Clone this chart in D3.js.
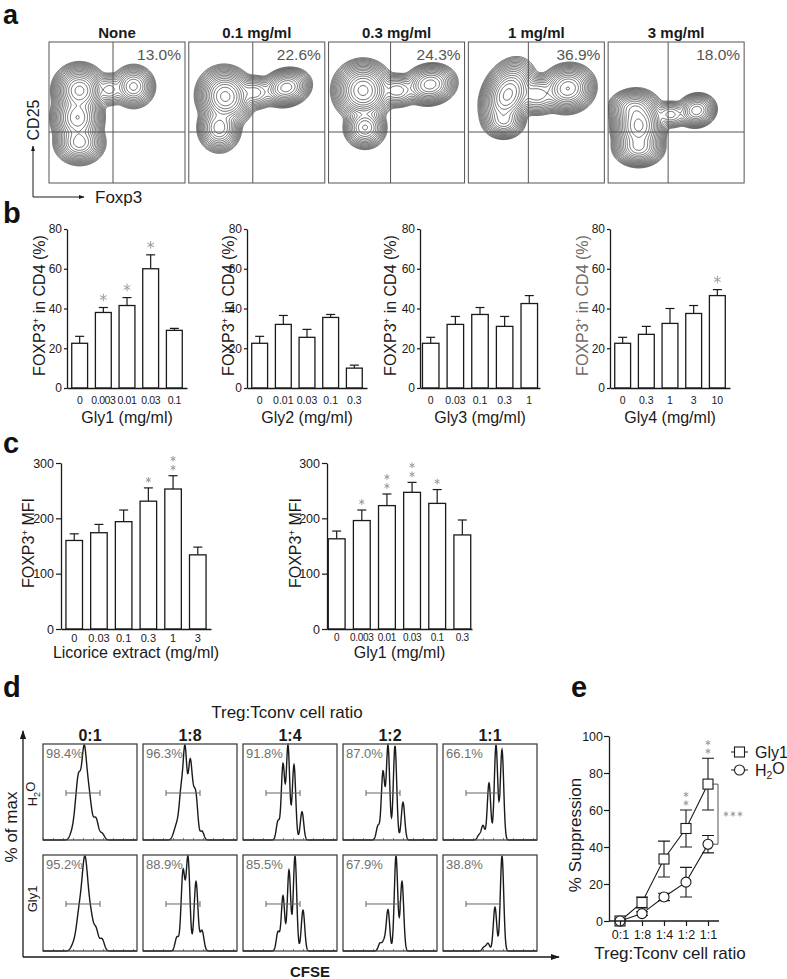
<!DOCTYPE html>
<html>
<head>
<meta charset="utf-8">
<script src="https://cdn.jsdelivr.net/npm/d3@7"></script>
<style>
body { margin: 0; background: #fff; }
svg { display: block; }
text { font-family: 'Liberation Sans', Arial, sans-serif; }
</style>
</head>
<body>
<div id="chart-area"></div>
<script>
var width = 787, height = 979;
var ink = "#1a1a1a", grey = "#666", starGrey = "#9a9a9a";

// ---- panel a : flow contour plots (populations: cx, cy, sx, sy, weight, angle)
var flowTitles = ["None", "0.1 mg/ml", "0.3 mg/ml", "1 mg/ml", "3 mg/ml"];
var flowPercents = ["13.0%", "22.6%", "24.3%", "36.9%", "18.0%"];
var flowGateX = [64, 64, 62, 60, 60];
var flowBlobs = [
  [[30, 48, 8, 8, 1, 0], [28, 75, 8, 9, 0.6, 0], [30, 100, 8, 7, 0.35, 0], [84, 44, 7, 7, 0.22, 0], [60, 47, 6, 6, 0.05, 0]],
  [[36, 54, 8.5, 9, 1, -20], [30, 85, 7, 8, 0.25, 0], [97, 45, 8, 6, 0.35, -15], [65, 50, 8, 6, 0.08, 0]],
  [[34, 48, 9, 9, 1, 0], [36, 85, 7, 7, 0.2, 0], [101, 42, 8.5, 6.5, 0.35, -10], [68, 48, 8, 6, 0.08, 0]],
  [[39, 52, 7.5, 11, 1, 25], [35, 78, 7, 6, 0.2, 0], [99, 46, 8.5, 7.5, 0.6, -15], [68, 52, 9, 7, 0.12, 0]],
  [[30, 83, 8, 10, 1, 0], [25, 66, 8, 6, 0.3, 0], [30, 105, 8, 6, 0.4, 0], [88, 68, 6.5, 5.5, 0.25, -15], [62, 72, 7, 5, 0.05, 0]]
];

// ---- panel b
var bTicks = [
  ["0", "0.003", "0.01", "0.03", "0.1"],
  ["0", "0.01", "0.03", "0.1", "0.3"],
  ["0", "0.03", "0.1", "0.3", "1"],
  ["0", "0.3", "1", "3", "10"]
];
var bMeans = [[22.5, 38, 41.5, 60, 29], [22.5, 32, 25.5, 35.5, 10], [22.5, 32, 37, 31, 42.5], [22.5, 27, 32.5, 37.5, 46.5]];
var bUpper = [[26, 40.5, 45.5, 67, 30], [26, 36.5, 29.5, 37, 11.5], [25.5, 36, 40.5, 36, 46.5], [25.5, 31, 40, 41.5, 49.5]];
var bStars = [[0, 1, 1, 1, 0], [0, 0, 0, 0, 0], [0, 0, 0, 0, 0], [0, 0, 0, 0, 1]];
var bXLabels = ["Gly1 (mg/ml)", "Gly2 (mg/ml)", "Gly3 (mg/ml)", "Gly4 (mg/ml)"];
var bYTicks = [0, 20, 40, 60, 80];

// ---- panel c
var cTicks = [["0", "0.03", "0.1", "0.3", "1", "3"], ["0", "0.003", "0.01", "0.03", "0.1", "0.3"]];
var cMeans = [[160, 174, 194, 231, 253, 134], [163, 196, 223, 247, 227, 170]];
var cUpper = [[172, 189, 215, 255, 277, 148], [177, 215, 244, 265, 252, 197]];
var cStars = [[0, 0, 0, 1, 2, 0], [0, 1, 2, 2, 1, 0]];
var cXLabels = ["Licorice extract (mg/ml)", "Gly1 (mg/ml)"];
var cYTicks = [0, 100, 200, 300];

// ---- panel d : CFSE histograms (peak channel, relative height)
var ratios = ["0:1", "1:8", "1:4", "1:2", "1:1"];
var dRows = ["H2O", "Gly1"];
var dPercents = [["98.4%", "96.3%", "91.8%", "87.0%", "66.1%"], ["95.2%", "88.9%", "85.5%", "67.9%", "38.8%"]];
var histPeaks = [
  [
    [[29, 0.08], [33, 0.28], [36, 0.62], [41, 1.0], [45, 0.45], [48, 0.22], [53, 0.25], [59, 0.08]],
    [[31, 0.06], [34, 0.15], [38, 0.5], [42, 1.0], [47, 0.8], [50, 0.3], [53, 0.45], [59, 0.1]],
    [[35, 0.2], [40, 0.8], [45, 1.0], [51, 0.8], [59, 0.3]],
    [[35, 0.15], [40, 0.72], [45, 1.0], [52, 1.0], [60, 0.4]],
    [[36, 0.05], [40, 0.15], [46, 0.6], [53, 1.0], [59, 0.95]]
  ],
  [
    [[30, 0.08], [34, 0.22], [37, 0.5], [41, 1.0], [44, 0.7], [48, 0.45], [53, 0.32], [59, 0.18]],
    [[34, 0.15], [40, 0.85], [45, 1.0], [53, 0.75], [59, 0.22]],
    [[35, 0.2], [40, 0.58], [46, 0.85], [52, 1.0], [60, 0.43]],
    [[37, 0.08], [41, 0.1], [45, 0.43], [53, 1.0], [59, 0.73]],
    [[41, 0.04], [45, 0.08], [52, 0.46], [59, 1.0]]
  ]
];
var histSigma = [2.3, 1.9, 1.7, 1.7, 1.7];

// ---- panel e
var eGly1 = [0, 10, 33.5, 50, 74];
var eGly1Err = [0, 3, 9.7, 10, 14];
var eH2O = [0, 4, 13, 21, 41.5];
var eH2OErr = [0, 1, 2, 8, 4.7];
var eStars = [0, 0, 0, 2, 2];
var eYTicks = [0, 20, 40, 60, 80, 100];

var svg = d3.select("#chart-area").append("svg")
  .attr("width", width)
  .attr("height", height);
var defs = svg.append("defs");

function arrowMarker(id, size) {
  defs.append("marker")
    .attr("id", id)
    .attr("viewBox", "0 0 10 10")
    .attr("refX", 9).attr("refY", 5)
    .attr("markerUnits", "userSpaceOnUse")
    .attr("markerWidth", size).attr("markerHeight", size)
    .attr("orient", "auto")
    .append("path").attr("d", "M0,1.5L10,5L0,8.5Z").attr("fill", ink);
}
arrowMarker("arrowS", 6);
arrowMarker("arrowL", 9);

function panelLabel(t, x, y, size) {
  svg.append("text").attr("x", x).attr("y", y)
    .attr("font-size", size || "29px").attr("font-weight", "bold").attr("fill", "#111").text(t);
}

function rotLabel(g, x, y, size, color) {
  return g.append("text")
    .attr("transform", "translate(" + x + "," + y + ") rotate(-90)")
    .attr("text-anchor", "middle").attr("dy", "0.35em")
    .attr("font-size", size).attr("fill", color || ink);
}

function addFoxp3(t, rest) {
  t.append("tspan").text("FOXP3");
  t.append("tspan").attr("font-size", "0.6em").attr("dy", "-0.6em").text("+");
  t.append("tspan").attr("dy", "0.36em").text(rest);
}

function star(g, x, y, size) {
  g.append("path")
    .attr("transform", "translate(" + x + "," + y + ")")
    .attr("d", d3.symbol(d3.symbolAsterisk, size)())
    .attr("fill", "none").attr("stroke", starGrey).attr("stroke-width", 1);
}

// ================= panel a =================
panelLabel("a", 3, 24, "27px");
var boxW = 136, boxH = 141, boxY = 42;
var flowX = d3.scaleBand().domain(flowTitles).range([49, 744]).paddingInner(0.028).paddingOuter(0);

function densityGrid(blobs, w, h) {
  var vals = new Array(w * h);
  for (var j = 0; j < h; j++) {
    for (var i = 0; i < w; i++) {
      var v = 0;
      blobs.forEach(function(b) {
        var a = b[5] * Math.PI / 180, dx = i - b[0], dy = j - b[1];
        var u = dx * Math.cos(a) + dy * Math.sin(a), t = -dx * Math.sin(a) + dy * Math.cos(a);
        v += b[4] * Math.exp(-0.5 * (u * u / (b[2] * b[2]) + t * t / (b[3] * b[3])));
      });
      vals[j * w + i] = v;
    }
  }
  return vals;
}

flowTitles.forEach(function(title, k) {
  var bx = flowX(title);
  var g = svg.append("g").attr("transform", "translate(" + bx + "," + boxY + ")");
  defs.append("clipPath").attr("id", "clipA" + k)
    .append("rect").attr("width", boxW).attr("height", boxH);
  var vals = densityGrid(flowBlobs[k], boxW, boxH);
  var mx = d3.max(vals);
  var levels = d3.range(18).map(function(i) { return mx * Math.exp(-0.38 * (i + 0.4)); }).reverse();
  var contours = d3.contours().size([boxW, boxH]).thresholds(levels)(vals);
  g.append("g").attr("clip-path", "url(#clipA" + k + ")")
    .selectAll("path").data(contours).join("path")
    .attr("d", d3.geoPath())
    .attr("fill", "none").attr("stroke", "#111").attr("stroke-width", 0.6);
  // quadrant gates
  g.append("line").attr("x1", flowGateX[k]).attr("x2", flowGateX[k]).attr("y1", 0).attr("y2", boxH)
    .attr("stroke", "#555").attr("stroke-width", 1);
  g.append("line").attr("x1", 0).attr("x2", boxW).attr("y1", 90).attr("y2", 90)
    .attr("stroke", "#555").attr("stroke-width", 1);
  g.append("rect").attr("width", boxW).attr("height", boxH)
    .attr("fill", "none").attr("stroke", "#555").attr("stroke-width", 1);
  g.append("text").attr("x", boxW - 4).attr("y", 18).attr("text-anchor", "end")
    .attr("font-size", "15.5px").attr("fill", "#555").text(flowPercents[k]);
  svg.append("text").attr("x", bx + boxW / 2).attr("y", 38).attr("text-anchor", "middle")
    .attr("font-size", "15px").attr("font-weight", "bold").attr("fill", ink).text(title);
});

svg.append("path").attr("d", "M33,197V146").attr("stroke", ink).attr("fill", "none")
  .attr("marker-end", "url(#arrowS)");
svg.append("path").attr("d", "M33,197H84").attr("stroke", ink).attr("fill", "none")
  .attr("marker-end", "url(#arrowS)");
rotLabel(svg, 33, 120, "16px").text("CD25");
svg.append("text").attr("x", 95).attr("y", 203).attr("font-size", "17px").attr("fill", ink).text("Foxp3");

// ================= bar charts (b, c) =================
function barChart(o) {
  var g = svg.append("g");
  var x = d3.scaleBand().domain(o.ticks).range([o.x0, o.x0 + o.xLen])
    .paddingInner(0.33).paddingOuter(o.padOuter);
  var y = d3.scaleLinear().domain([0, o.max]).range([o.yBottom, o.yTop]);

  var bars = g.selectAll(".bar").data(o.means).join("g");
  bars.append("line")
    .attr("x1", function(d, i) { return x(o.ticks[i]) + x.bandwidth() / 2; })
    .attr("x2", function(d, i) { return x(o.ticks[i]) + x.bandwidth() / 2; })
    .attr("y1", function(d) { return y(d); })
    .attr("y2", function(d, i) { return y(o.upper[i]); })
    .attr("stroke", ink).attr("stroke-width", 1.2);
  bars.append("line")
    .attr("x1", function(d, i) { return x(o.ticks[i]) + x.bandwidth() / 2 - 4.5; })
    .attr("x2", function(d, i) { return x(o.ticks[i]) + x.bandwidth() / 2 + 4.5; })
    .attr("y1", function(d, i) { return y(o.upper[i]); })
    .attr("y2", function(d, i) { return y(o.upper[i]); })
    .attr("stroke", ink).attr("stroke-width", 1.2);
  bars.append("rect")
    .attr("x", function(d, i) { return x(o.ticks[i]); })
    .attr("y", function(d) { return y(d); })
    .attr("width", x.bandwidth())
    .attr("height", function(d) { return o.yBottom - y(d); })
    .attr("fill", "#fff").attr("stroke", ink).attr("stroke-width", 1.3);

  o.stars.forEach(function(n, i) {
    for (var s = 0; s < n; s++) {
      star(g, x(o.ticks[i]) + x.bandwidth() / 2, y(o.upper[i]) - o.starGap - s * 9, o.starSize);
    }
  });

  var left = g.append("g").attr("transform", "translate(" + o.x0 + ",0)")
    .call(d3.axisLeft(y).tickValues(o.yTicks).tickSize(o.tickLen).tickSizeOuter(0).tickPadding(2));
  var bottom = g.append("g").attr("transform", "translate(0," + o.yBottom + ")")
    .call(d3.axisBottom(x).tickSize(0).tickSizeOuter(0).tickPadding(o.xPad));
  [left, bottom].forEach(function(a) {
    a.select(".domain").attr("stroke", ink).attr("stroke-width", 1.3);
    a.selectAll(".tick line").attr("stroke", ink).attr("stroke-width", 1.2);
    a.selectAll("text").attr("fill", ink).attr("font-family", null);
  });
  left.selectAll("text").attr("font-size", o.yFont);
  bottom.selectAll("text").attr("font-size", o.xFont).attr("letter-spacing", o.xSpacing || null);

  g.append("text").attr("x", o.x0 + o.xLen / 2).attr("y", o.labelY).attr("text-anchor", "middle")
    .attr("font-size", "16px").attr("fill", ink).text(o.xLabel);
  var yl = rotLabel(g, o.yLabelX, (o.yTop + o.yBottom) / 2 - 3, "16px", o.yLabelColor);
  addFoxp3(yl, o.yLabelRest);
}

panelLabel("b", 3, 223);
var bLayout = [
  {x0: 67, padOuter: 0.2, yLabelX: 39, xFont: "10.5px", xSpacing: "-0.4px"},
  {x0: 247, padOuter: 0.2, yLabelX: 228, xFont: "10.5px"},
  {x0: 420, padOuter: 0.1, yLabelX: 390, xFont: "10.5px"},
  {x0: 610, padOuter: 0.2, yLabelX: 582, xFont: "10.5px", yLabelColor: "#6a6a6a"}
];
bLayout.forEach(function(L, k) {
  barChart({
    ticks: bTicks[k], means: bMeans[k], upper: bUpper[k], stars: bStars[k],
    x0: L.x0, xLen: 120, padOuter: L.padOuter, yTop: 229, yBottom: 388, max: 80,
    yTicks: bYTicks, tickLen: 3, xPad: 9, yFont: "12px", xFont: L.xFont, xSpacing: L.xSpacing,
    starGap: 10, starSize: 40,
    xLabel: bXLabels[k], labelY: 423, yLabelX: L.yLabelX, yLabelColor: L.yLabelColor,
    yLabelRest: " in CD4 (%)"
  });
});

panelLabel("c", 3, 453);
var cLayout = [
  {x0: 61, xLen: 150, padOuter: 0.2, yLabelX: 28, xFont: "11px"},
  {x0: 327, xLen: 145, padOuter: 0.05, yLabelX: 295, xFont: "10px", xSpacing: "-0.3px"}
];
cLayout.forEach(function(L, k) {
  barChart({
    ticks: cTicks[k], means: cMeans[k], upper: cUpper[k], stars: cStars[k],
    x0: L.x0, xLen: L.xLen, padOuter: L.padOuter, yTop: 463, yBottom: 629, max: 300,
    yTicks: cYTicks, tickLen: 5, xPad: 5, yFont: "12.5px", xFont: L.xFont, xSpacing: L.xSpacing,
    starGap: 8, starSize: 22,
    xLabel: cXLabels[k], labelY: 658, yLabelX: L.yLabelX,
    yLabelRest: " MFI"
  });
});

// ================= panel d =================
panelLabel("d", 3, 697);
svg.append("text").attr("x", 287).attr("y", 718).attr("text-anchor", "middle")
  .attr("font-size", "17px").attr("fill", ink).text("Treg:Tconv cell ratio");

var dX = d3.scaleBand().domain(ratios).range([43, 537]).paddingInner(0.06).paddingOuter(0);
var dY = d3.scaleBand().domain(dRows).range([744, 951]).paddingInner(0.135).paddingOuter(0);
var bw = dX.bandwidth(), bh = dY.bandwidth();
var cfse = d3.scaleLinear().domain([0, 94]).range([0, bw]);
var hy = d3.scaleLinear().domain([0, 1]).range([bh, 1]);
var channels = d3.range(0, 94.01, 0.25);
var histLine = d3.line().x(function(d) { return cfse(d[0]); }).y(function(d) { return hy(d[1]); });

ratios.forEach(function(r) {
  svg.append("text").attr("x", dX(r) + bw / 2).attr("y", 741).attr("text-anchor", "middle")
    .attr("font-size", "16px").attr("font-weight", "bold").attr("fill", ink).text(r);
});

dRows.forEach(function(row, ri) {
  ratios.forEach(function(r, ci) {
    var g = svg.append("g").attr("transform", "translate(" + dX(r) + "," + dY(row) + ")");
    var peaks = histPeaks[ri][ci];
    var sig = histSigma[ci];
    var pts = channels.map(function(c) {
      var v = 0;
      peaks.forEach(function(p) { v += p[1] * Math.exp(-0.5 * Math.pow((c - p[0]) / sig, 2)); });
      return [c, v];
    });
    var mx = d3.max(pts, function(d) { return d[1]; });
    pts.forEach(function(d) { d[1] = d[1] / mx; });
    g.append("g").attr("transform", "translate(0," + bh + ")")
      .call(d3.axisTop(cfse).ticks(10).tickSize(2).tickFormat(""))
      .call(function(a) {
        a.select(".domain").remove();
        a.selectAll("line").attr("stroke", "#888");
      });
    g.append("path").attr("d", histLine(pts))
      .attr("fill", "none").attr("stroke", ink).attr("stroke-width", 1.4);
    var gy = 49;
    g.append("path").attr("d", "M" + cfse(23) + "," + gy + "H" + cfse(57) +
        "M" + cfse(23) + "," + (gy - 3) + "V" + (gy + 3) + "M" + cfse(57) + "," + (gy - 3) + "V" + (gy + 3))
      .attr("stroke", "#666").attr("stroke-width", 1).attr("fill", "none");
    g.append("rect").attr("width", bw).attr("height", bh)
      .attr("fill", "none").attr("stroke", "#444").attr("stroke-width", 1.3);
    g.append("text").attr("x", 3).attr("y", 14).attr("font-size", "13px").attr("fill", "#707070")
      .text(dPercents[ri][ci]);
  });
});

var h2o = rotLabel(svg, 32, dY("H2O") + 50, "13px");
h2o.append("tspan").text("H");
h2o.append("tspan").attr("font-size", "0.7em").attr("dy", "0.35em").text("2");
h2o.append("tspan").attr("dy", "-0.35em").text("O");
rotLabel(svg, 32, dY("Gly1") + 44, "13px").text("Gly1");

svg.append("path").attr("d", "M23,957V731").attr("stroke", ink).attr("stroke-width", 1.3)
  .attr("fill", "none").attr("marker-end", "url(#arrowL)");
svg.append("path").attr("d", "M23,957H559").attr("stroke", ink).attr("stroke-width", 1.3)
  .attr("fill", "none").attr("marker-end", "url(#arrowL)");
rotLabel(svg, 11, 827, "17px").text("% of max");
svg.append("text").attr("x", 310).attr("y", 977).attr("text-anchor", "middle")
  .attr("font-size", "15px").attr("font-weight", "bold").attr("fill", ink).text("CFSE");

// ================= panel e =================
panelLabel("e", 571, 697);
var ex = d3.scalePoint().domain(ratios).range([609, 719]).padding(0.5);
var ey = d3.scaleLinear().domain([0, 100]).range([921, 736]);
var eg = svg.append("g");

var eLine = d3.line().x(function(d, i) { return ex(ratios[i]); }).y(function(d) { return ey(d); });
[[eGly1, eGly1Err], [eH2O, eH2OErr]].forEach(function(s) {
  eg.append("path").attr("d", eLine(s[0])).attr("fill", "none").attr("stroke", ink).attr("stroke-width", 1.1);
  s[0].forEach(function(v, i) {
    var cx = ex(ratios[i]);
    if (s[1][i] > 0) {
      eg.append("path")
        .attr("d", "M" + cx + "," + ey(v - s[1][i]) + "V" + ey(v + s[1][i]) +
          "M" + (cx - 6) + "," + ey(v - s[1][i]) + "H" + (cx + 6) +
          "M" + (cx - 6) + "," + ey(v + s[1][i]) + "H" + (cx + 6))
        .attr("stroke", ink).attr("stroke-width", 1.1).attr("fill", "none");
    }
  });
});
eGly1.forEach(function(v, i) {
  eg.append("rect").attr("x", ex(ratios[i]) - 5).attr("y", ey(v) - 5).attr("width", 10).attr("height", 10)
    .attr("fill", "#fff").attr("stroke", ink).attr("stroke-width", 1.1);
});
eH2O.forEach(function(v, i) {
  eg.append("circle").attr("cx", ex(ratios[i])).attr("cy", ey(v)).attr("r", 5)
    .attr("fill", "#fff").attr("stroke", ink).attr("stroke-width", 1.1);
});
eStars.forEach(function(n, i) {
  for (var s = 0; s < n; s++) {
    star(eg, ex(ratios[i]), ey(eGly1[i] + eGly1Err[i]) - 7 - s * 8.5, 20);
  }
});
eg.append("path")
  .attr("d", "M712," + ey(eGly1[4]) + "H718V" + ey(eH2O[4]) + "H712")
  .attr("fill", "none").attr("stroke", "#555").attr("stroke-width", 1);
[726, 733, 740].forEach(function(sx) { star(eg, sx, 814, 18); });

var eLeft = eg.append("g").attr("transform", "translate(609,0)")
  .call(d3.axisLeft(ey).tickValues(eYTicks).tickSize(5).tickSizeOuter(0).tickPadding(1));
var eBottom = eg.append("g").attr("transform", "translate(0,921)")
  .call(d3.axisBottom(ex).tickSize(5).tickSizeOuter(0).tickPadding(4));
[eLeft, eBottom].forEach(function(a) {
  a.select(".domain").attr("stroke", ink).attr("stroke-width", 1.3);
  a.selectAll(".tick line").attr("stroke", ink).attr("stroke-width", 1.2);
  a.selectAll("text").attr("fill", ink).attr("font-family", null).attr("font-size", "12.5px");
});
eBottom.select(".domain").attr("d", "M609,0H719");

eg.append("text").attr("x", 670).attr("y", 959).attr("text-anchor", "middle")
  .attr("font-size", "17px").attr("fill", ink).text("Treg:Tconv cell ratio");
rotLabel(eg, 575, 835, "17px").text("% Suppression");

// legend
eg.append("path").attr("d", "M731,752H748M731,770H748").attr("stroke", ink).attr("stroke-width", 1.1);
eg.append("rect").attr("x", 734.5).attr("y", 747).attr("width", 10).attr("height", 10)
  .attr("fill", "#fff").attr("stroke", ink).attr("stroke-width", 1.1);
eg.append("circle").attr("cx", 739.5).attr("cy", 770).attr("r", 5)
  .attr("fill", "#fff").attr("stroke", ink).attr("stroke-width", 1.1);
eg.append("text").attr("x", 755).attr("y", 758).attr("font-size", "16px").attr("fill", ink).text("Gly1");
var lh = eg.append("text").attr("x", 755).attr("y", 776).attr("font-size", "16px").attr("fill", ink);
lh.append("tspan").text("H");
lh.append("tspan").attr("font-size", "0.65em").attr("dy", "0.3em").text("2");
lh.append("tspan").attr("dy", "-0.3em").text("O");
</script>
</body>
</html>
